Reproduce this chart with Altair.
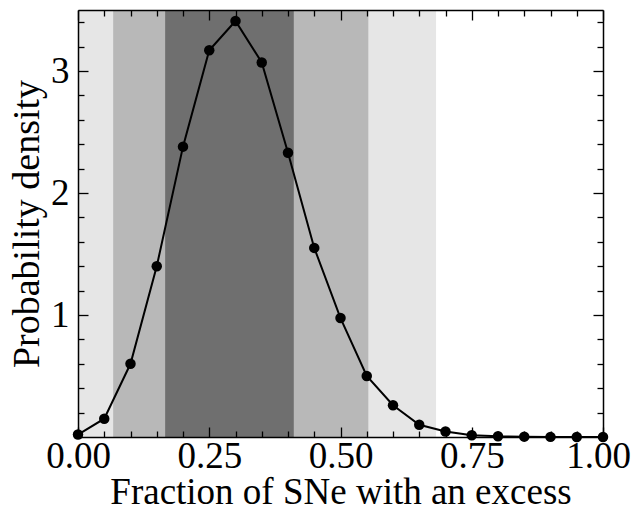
import altair as alt
import pandas as pd

# ---- data ----
x_vals = [0.00, 0.05, 0.10, 0.15, 0.20, 0.25, 0.30, 0.35, 0.40, 0.45, 0.50,
          0.55, 0.60, 0.65, 0.70, 0.75, 0.80, 0.85, 0.90, 0.95, 1.00]
density = [0.02, 0.15, 0.60, 1.40, 2.38, 3.17, 3.41, 3.07, 2.33, 1.55, 0.975,
           0.50, 0.26, 0.10, 0.045, 0.015, 0.006, 0.003, 0.001, 0.0005, 0.0]

band_name = ["99.7%", "95%", "68%"]
band_start = [0.0, 0.067, 0.166]
band_end = [0.682, 0.553, 0.411]
band_color = ["#e6e6e6", "#b8b8b8", "#6f6f6f"]

x_major = [0.0, 0.25, 0.5, 0.75, 1.0]
x_minor = [0.05, 0.10, 0.15, 0.20, 0.30, 0.35, 0.40, 0.45, 0.55, 0.60, 0.65,
           0.70, 0.80, 0.85, 0.90, 0.95]
y_major = [1, 2, 3]
y_minor = [0.2, 0.4, 0.6, 0.8, 1.2, 1.4, 1.6, 1.8, 2.2, 2.4, 2.6, 2.8, 3.2, 3.4]

FONT = "Liberation Serif"
W, H = 525, 427

df = pd.DataFrame({"x": x_vals, "y": density})
bands = pd.DataFrame({"name": band_name, "start": band_start,
                      "end": band_end, "color": band_color})

xs = alt.Scale(domain=[0, 1], nice=False, zero=False)
ys = alt.Scale(domain=[0, 3.5], nice=False, zero=False)


def label_axis(values, fmt, title, pad, tpad, lfs, tfs, **kw):
    return alt.Axis(values=values, format=fmt, ticks=False, domain=True,
                    domainColor="black", domainWidth=1.5, grid=False,
                    labelFont=FONT, labelFontSize=lfs, labelColor="black",
                    labelPadding=pad, labelFlush=False, labelOverlap=False,
                    labelBound=False, title=title, titleFont=FONT,
                    titleFontSize=tfs, titleFontWeight="normal",
                    titleColor="black", titlePadding=tpad, zindex=1, **kw)


def tick_axis(values, orient, size):
    return alt.Axis(values=values, orient=orient, labels=False, domain=False,
                    grid=False, ticks=True, tickSize=size, offset=-size,
                    tickColor="black", tickWidth=1.3, title=None, zindex=1)


def domain_axis(orient):
    return alt.Axis(orient=orient, labels=False, ticks=False, grid=False,
                    domain=True, domainColor="black", domainWidth=1.5,
                    title=None, zindex=1)


band_layer = alt.Chart(bands).mark_rect().encode(
    x=alt.X("start:Q", scale=xs,
            axis=label_axis(x_major, ".2f", "Fraction of SNe with an excess",
                            1, 0, 37, 37,
                            labelOffset={"condition": {"test": "datum.value == 1",
                                                       "value": -5},
                                         "value": 0})),
    x2="end:Q",
    color=alt.Color("color:N", scale=None, legend=None),
)

line_layer = alt.Chart(df).mark_line(color="black", strokeWidth=2).encode(
    x=alt.X("x:Q", scale=xs, axis=tick_axis(x_major, "bottom", 10)),
    y=alt.Y("y:Q", scale=ys,
            axis=label_axis(y_major, "d", "Probability density", 9, 4, 37, 38)),
)

point_layer = alt.Chart(df).mark_circle(color="black", size=110, opacity=1).encode(
    x=alt.X("x:Q", scale=xs, axis=tick_axis(x_minor, "bottom", 6)),
    y=alt.Y("y:Q", scale=ys, axis=tick_axis(y_major, "left", 10)),
)

inv1 = alt.Chart(df).mark_point(opacity=0).encode(
    x=alt.X("x:Q", scale=xs, axis=tick_axis(x_major, "top", 10)),
    y=alt.Y("y:Q", scale=ys, axis=tick_axis(y_minor, "left", 6)),
)
inv2 = alt.Chart(df).mark_point(opacity=0).encode(
    x=alt.X("x:Q", scale=xs, axis=tick_axis(x_minor, "top", 6)),
    y=alt.Y("y:Q", scale=ys, axis=tick_axis(y_major, "right", 10)),
)
inv3 = alt.Chart(df).mark_point(opacity=0).encode(
    x=alt.X("x:Q", scale=xs, axis=domain_axis("top")),
    y=alt.Y("y:Q", scale=ys, axis=tick_axis(y_minor, "right", 6)),
)
inv4 = alt.Chart(df).mark_point(opacity=0).encode(
    x=alt.X("x:Q", scale=xs, axis=None),
    y=alt.Y("y:Q", scale=ys, axis=domain_axis("right")),
)

chart = alt.layer(
    band_layer, line_layer, point_layer, inv1, inv2, inv3, inv4
).resolve_axis(
    x="independent", y="independent"
).properties(
    width=W, height=H,
    autosize=alt.AutoSizeParams(type="none"),
    padding={"left": 70, "top": 2, "right": 28, "bottom": 69},
).configure_view(stroke=None)

chart.save("out.html", embed_options={"renderer": "svg", "actions": False})
